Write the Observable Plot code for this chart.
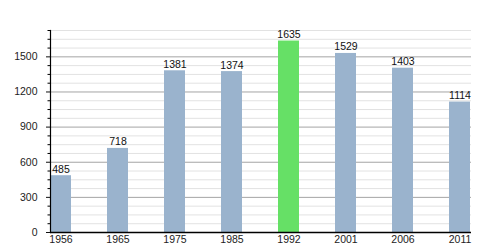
<!DOCTYPE html>
<html>
<head>
<meta charset="utf-8">
<script src="https://cdn.jsdelivr.net/npm/d3@7"></script>
<script src="https://cdn.jsdelivr.net/npm/@observablehq/plot@0.6"></script>
<style>
  html, body { margin: 0; padding: 0; background: #fff; }
  svg { display: block; }
</style>
</head>
<body>
<div id="chart"></div>
<script>
const years = ["1956", "1965", "1975", "1985", "1992", "2001", "2006", "2011"];
const population = [485, 718, 1381, 1374, 1635, 1529, 1403, 1114];
const highlightYear = "1992";
const majorTicks = [0, 300, 600, 900, 1200, 1500];
const minorTicks = d3.range(0, 1726, 75);

const data = years.map((y, i) => ({ year: y, pop: population[i], hl: y === highlightYear }));
const minorOnly = minorTicks.filter(v => v % 300 !== 0);

const chart = Plot.plot({
  width: 500,
  height: 250,
  marginLeft: 50,
  marginRight: 29,
  marginTop: 30,
  marginBottom: 18,
  style: { fontFamily: "'Liberation Sans', Arial, sans-serif", fontSize: "10.5px", color: "#111", background: "#fff" },
  x: { type: "band", domain: years, paddingInner: 0.63, paddingOuter: 0, label: null },
  y: { domain: [0, 1725], label: null },
  marks: [
    Plot.ruleY(minorOnly, { stroke: "#e2e2e2", strokeWidth: 1 }),
    Plot.ruleY(majorTicks.filter(v => v > 0), { stroke: "#a4a4a4", strokeWidth: 1 }),
    Plot.barY(data, { x: "year", y: "pop", fill: d => d.hl ? "#66e066" : "#9ab3cd" }),
    Plot.text(data, { x: "year", y: "pop", text: d => String(d.pop), lineAnchor: "bottom", dy: -3, fill: "#111", fontSize: 10.5 }),
    Plot.axisY({ ticks: minorOnly, tickSize: 2.5, tickFormat: () => "", stroke: "#000" }),
    Plot.axisY({ ticks: majorTicks, tickSize: 4, tickPadding: 9, tickFormat: d => String(d), fill: "#222", fontSize: 10.5 }),
    Plot.axisX({ tickSize: 0, tickPadding: 3, fill: "#222", fontSize: 10.5 }),
    Plot.frame({ anchor: "left", stroke: "#000", strokeWidth: 1.2 }),
    Plot.ruleY([0], { stroke: "#000", strokeWidth: 1.5 })
  ]
});
document.getElementById("chart").appendChild(chart);
</script>
</body>
</html>
